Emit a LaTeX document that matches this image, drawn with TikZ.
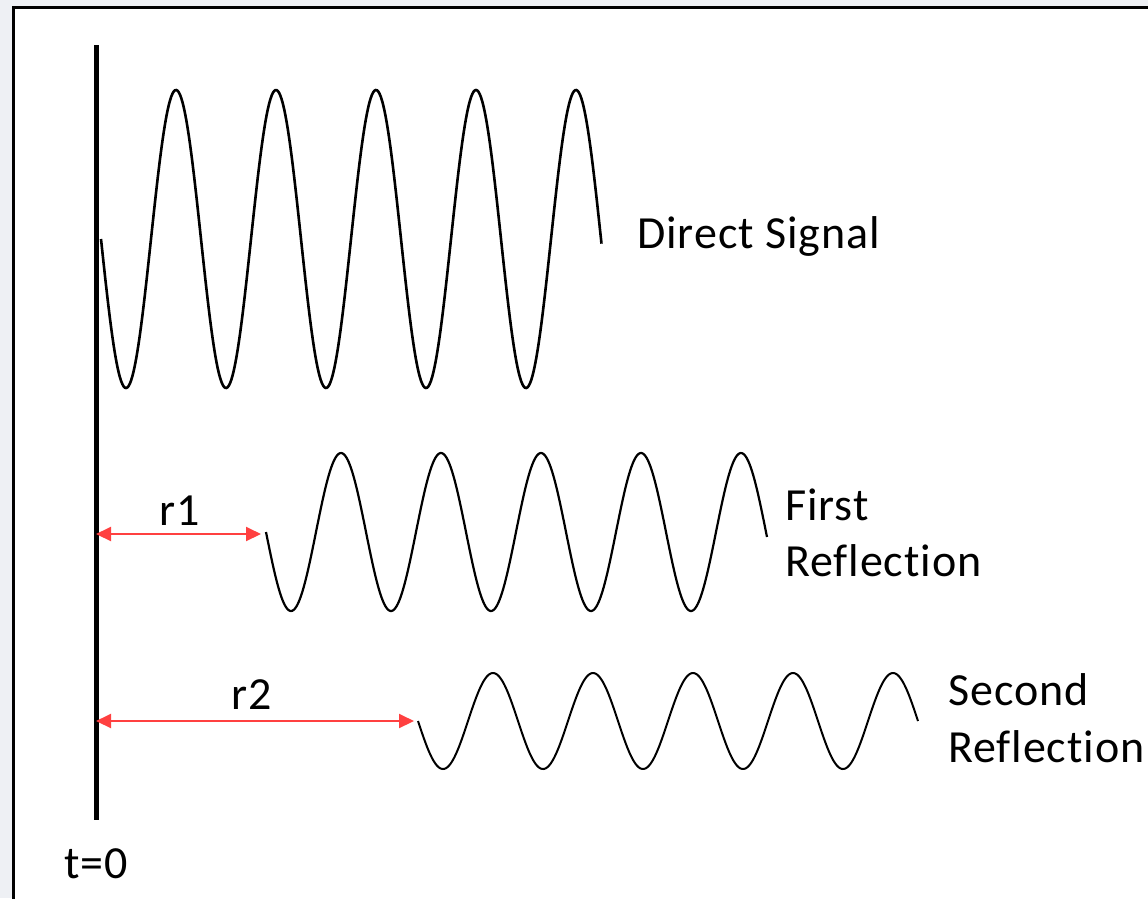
\documentclass[tikz,border=0pt]{standalone}
\usepackage{fontspec}
\setmainfont[LetterSpace=2, Ligatures=NoCommon]{Carlito}
\usetikzlibrary{arrows.meta}
\definecolor{PageGray}{HTML}{EEF0F4}
\definecolor{ArrowRed}{HTML}{FF4040}

\begin{document}
\begin{tikzpicture}[x=1pt,y=-1pt]
            % page, frame and time axis
            \useasboundingbox (0,0) rectangle (1148,898);
            \fill[PageGray] (0,0) rectangle (1148,898);
            \draw[line width=3pt, fill=white] (13,7) rectangle (1170,920);
            \coordinate (axtop) at (96,45);
            \coordinate (axbot) at (96,820);
            \draw[line width=5pt] (axtop) -- (axbot);
            \node[anchor=base, inner sep=0pt, font=\fontsize{46}{56}\selectfont] (t0) at (96,878) {t=0};

            % the three signals
            \coordinate (s0) at (101,239);
            \coordinate (s1) at (266,532);
            \coordinate (s2) at (418,721);
            \draw[line width=2.6pt] plot[domain=0:500.5, samples=400] ({101+\x}, {239+149*sin(3.6*\x)});
            \draw[line width=2.2pt] plot[domain=0:501, samples=400] ({266+\x}, {532+79*sin(3.6*\x)});
            \draw[line width=2pt] plot[domain=0:500, samples=400] ({418+\x}, {721+48*sin(3.6*\x)});

            \node[anchor=base west, inner sep=0pt, font=\fontsize{46}{56}\selectfont] (direct) at (637,248) {Direct Signal};
            \node[anchor=base west, inner sep=0pt, align=left, font=\fontsize{46}{56}\selectfont] (first) at (785,576) {First\\Reflection};
            \node[anchor=base west, inner sep=0pt, align=left, font=\fontsize{46}{57}\selectfont] (second) at (948,762) {Second\\Reflection};

            % delays
            \coordinate (e1) at (261,534);
            \coordinate (e2) at (414,721);
            \draw[{Triangle[length=15pt,width=14pt]}-{Triangle[length=15pt,width=14pt]}, ArrowRed, line width=2pt] (axtop |- e1) -- (e1);
            \draw[{Triangle[length=15pt,width=14pt]}-{Triangle[length=15pt,width=14pt]}, ArrowRed, line width=2pt] (axtop |- e2) -- (e2);
            \node[anchor=base, inner sep=0pt, font=\fontsize{46}{56}\selectfont] (r1) at (180,525) {r1};
            \node[anchor=base, inner sep=0pt, font=\fontsize{46}{56}\selectfont] (r2) at (252,709) {r2};
        \end{tikzpicture}
\end{document}
